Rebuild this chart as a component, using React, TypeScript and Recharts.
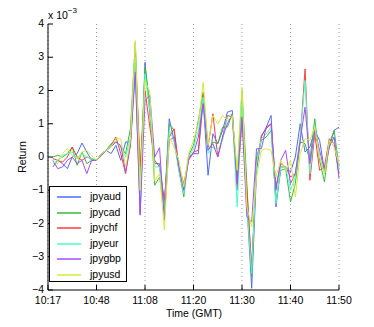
import React from 'react';
import { LineChart, Line, XAxis, YAxis, CartesianGrid, Legend } from 'recharts';

// Returns in units of 10^-3, minute index 1..60
const jpyaud = [-0.3, -0.1, -0.2, -0.35, 0.0, 0.1, 0.42, 0.15, -0.1, -0.1, 0.1, 0.2, 0.1, 0.35, -0.1, 0.45, 0.45, 2.7, -1.75, 2.85, 1.3, -0.2, -0.2, -1.5, 1.15, 0.5, -0.4, -1.0, 0.0, 0.1, 0.1, 1.7, -0.55, 0.7, 0.4, 0.8, 1.35, 1.4, -1.0, 1.5, -1.4, -3.95, -0.4, 0.6, 0.9, 1.25, -1.5, -0.3, -0.3, -0.45, 0.0, 1.0, 0.15, 0.3, 0.8, 0.5, -0.4, 0.3, 0.8, 0.9];
const jpycad = [0.0, 0.05, 0.0, 0.1, 0.3, -0.25, 0.15, -0.2, -0.1, -0.1, 0.05, 0.2, 0.4, 0.45, 0.3, 0.1, 0.85, 3.45, -0.6, 2.7, 1.6, -0.85, -0.6, -1.6, 1.0, 0.8, -0.4, -1.2, 0.05, 0.35, 1.1, 1.95, 0.2, 0.45, 0.4, 0.9, 0.9, 1.3, -0.7, 2.0, -0.8, -3.6, 0.0, 0.5, 0.6, 0.8, -1.3, -0.4, -0.35, -1.35, -0.8, 0.45, 0.4, -0.1, 1.15, -0.1, -0.75, 0.4, 0.8, -0.3];
const jpychf = [-0.05, -0.1, -0.15, 0.0, 0.3, 0.0, -0.1, 0.0, -0.05, -0.1, 0.1, 0.2, 0.35, 0.6, 0.1, -0.5, 0.4, 3.1, -0.3, 2.0, 0.9, -0.1, -0.3, -1.3, 0.6, 0.85, -0.3, -0.8, -0.1, 0.15, 0.2, 1.9, 0.3, 1.3, 0.0, 0.6, 1.25, 1.2, -0.9, 1.1, -1.0, -3.3, -0.3, 0.65, 0.85, 1.0, -0.9, -0.2, -0.3, -0.6, -0.5, 0.5, 2.65, -0.7, 0.7, -0.4, -0.3, 0.55, 0.4, -0.5];
const jpyeur = [-0.2, -0.1, 0.05, 0.1, 0.15, -0.05, 0.1, 0.0, -0.05, -0.1, 0.1, 0.2, 0.35, 0.45, 0.3, 0.0, 0.6, 3.0, -1.2, 2.5, 1.4, -0.3, -0.3, -1.7, 0.8, 0.5, -0.4, -1.1, 0.0, 0.25, 0.8, 1.8, 0.1, 0.3, 0.2, 0.5, 1.2, 1.3, -1.5, 1.6, -1.5, -3.5, -0.2, 0.55, 0.7, 0.9, -1.4, -0.3, -0.3, -1.0, -0.6, 0.6, 2.3, -0.5, 0.85, 0.0, -0.5, 0.35, 0.6, -0.4];
const jpygbp = [-0.1, -0.35, -0.3, -0.1, 0.0, -0.2, -0.1, -0.5, -0.1, -0.1, 0.05, 0.2, 0.3, 0.45, 0.35, -0.45, 0.35, 2.55, -1.7, 1.7, 1.85, 0.0, 0.28, -1.9, 0.5, 0.6, -0.3, -1.0, -0.05, 0.1, 0.6, 1.6, 0.2, 0.4, 0.0, 0.6, 1.0, 1.3, -0.8, 1.2, -1.8, -1.95, 0.25, 0.25, 0.9, 1.0, -1.0, -0.1, 0.2, -0.8, -0.5, 0.5, 1.5, -0.2, 0.8, 0.2, -0.4, 0.3, 0.6, -0.65];
const jpyusd = [-0.15, -0.2, 0.1, 0.25, 0.05, -0.05, 0.15, 0.2, 0.05, -0.1, 0.1, 0.2, 0.3, 0.55, 0.55, -0.3, 0.5, 3.5, -1.0, 2.3, 1.95, -0.7, -0.5, -2.2, 0.6, 0.3, -0.1, -0.9, 0.1, 0.5, 1.0, 2.25, 0.35, 1.25, 1.0, 1.25, 1.1, 1.25, -0.4, 2.1, -1.5, -2.1, -0.6, 0.2, 0.25, 0.2, -0.6, -0.1, -0.4, -0.1, -1.2, 0.1, 0.55, 0.5, 0.9, 0.0, -0.5, 0.5, 0.3, -0.2];

const seriesNames = ['jpyaud', 'jpycad', 'jpychf', 'jpyeur', 'jpygbp', 'jpyusd'];
const seriesValues = [jpyaud, jpycad, jpychf, jpyeur, jpygbp, jpyusd];
const seriesColors = ['#4d6bff', '#3cba3c', '#ff3c3c', '#4dffc4', '#a64dff', '#d2ec3c'];

const xTicks = [0, 10, 20, 30, 40, 50, 60];
const xTickLabels = ['10:17', '10:48', '11:08', '11:20', '11:30', '11:40', '11:50'];
const yTicks = [-4, -3, -2, -1, 0, 1, 2, 3, 4];

const data = jpyaud.map((_, i) => {
  const row: Record<string, number> = { t: i + 1 };
  seriesNames.forEach((n, k) => { row[n] = seriesValues[k][i]; });
  return row;
});

const FONT = 'Liberation Sans, Arial, sans-serif';
const TL = 5;

const BottomTick = (p: any) => (
  <g>
    <line x1={p.x} x2={p.x} y1={p.y} y2={p.y - TL} stroke="#000" />
    <text x={p.x} y={p.y + 14} textAnchor="middle" fontSize={10.5} fontFamily={FONT} fill="#000">
      {xTickLabels[xTicks.indexOf(p.payload.value)]}
    </text>
  </g>
);
const TopTick = (p: any) => (
  <line x1={p.x} x2={p.x} y1={p.y} y2={p.y + TL} stroke="#000" />
);
const LeftTick = (p: any) => (
  <g>
    <line x1={p.x} x2={p.x + TL} y1={p.y} y2={p.y} stroke="#000" />
    <text x={p.x - 4} y={p.y + 3} textAnchor="end" fontSize={10.5} fontFamily={FONT} fill="#000">
      {p.payload.value < 0 ? '\u2212' + Math.abs(p.payload.value) : String(p.payload.value)}
    </text>
  </g>
);
const RightTick = (p: any) => (
  <line x1={p.x} x2={p.x - TL} y1={p.y} y2={p.y} stroke="#000" />
);

const LegendBox = () => (
  <div style={{ width: 76, height: 94, border: '1px solid #000', background: '#fff', position: 'relative', fontFamily: FONT, fontSize: 10.5 }}>
    {seriesNames.map((n, k) => (
      <div key={n} style={{ position: 'absolute', left: 0, top: 2 + k * 15.6, height: 15, width: 76 }}>
        <svg width={36} height={15} style={{ position: 'absolute', left: 0, top: 0 }}>
          <line x1={7} x2={31} y1={8} y2={8} stroke={seriesColors[k]} strokeWidth={1.5} />
        </svg>
        <span style={{ position: 'absolute', left: 40, top: 1, lineHeight: '13px', color: '#000' }}>{n}</span>
      </div>
    ))}
  </div>
);

export default function App() {
  return (
    <div style={{ position: 'absolute', left: 0, top: 0, width: 374, height: 327, background: '#fff' }}>
      <LineChart width={374} height={327} data={data} margin={{ top: 24, right: 35, bottom: 17, left: 8 }}>
        <CartesianGrid vertical horizontal={false} stroke="#999" strokeDasharray="1 3" />
        <XAxis dataKey="t" type="number" domain={[0, 60]} ticks={xTicks} interval={0} height={20}
          tickSize={0} tickMargin={0} tickLine={false} axisLine={{ stroke: '#000' }} tick={BottomTick} />
        <XAxis xAxisId="top" orientation="top" dataKey="t" type="number" domain={[0, 60]} ticks={xTicks} interval={0} height={0}
          tickSize={0} tickMargin={0} tickLine={false} axisLine={{ stroke: '#000' }} tick={TopTick} />
        <YAxis type="number" domain={[-4, 4]} ticks={yTicks} interval={0} width={40}
          tickSize={0} tickMargin={0} tickLine={false} axisLine={{ stroke: '#000' }} tick={LeftTick} />
        <YAxis yAxisId="right" orientation="right" type="number" domain={[-4, 4]} ticks={yTicks} interval={0} width={0}
          tickSize={0} tickMargin={0} tickLine={false} axisLine={{ stroke: '#000' }} tick={RightTick} />
        {seriesNames.map((n, k) => (
          <Line key={n} dataKey={n} stroke={seriesColors[k]} strokeWidth={1} dot={false} isAnimationActive={false} type="linear" />
        ))}
        <Legend layout="horizontal" verticalAlign="middle" align="center" content={LegendBox}
          wrapperStyle={{ left: 49, top: 186, width: 78, height: 96 }} />
      </LineChart>
      <div style={{ position: 'absolute', left: 48, top: 7, fontFamily: FONT, fontSize: 10.5, color: '#000', whiteSpace: 'nowrap' }}>
        x 10<sup style={{ fontSize: 8, position: 'relative', top: -1 }}>{'\u2212'}3</sup>
      </div>
      <div style={{ position: 'absolute', left: 22, top: 157, transform: 'translate(-50%, -50%) rotate(-90deg)', fontFamily: FONT, fontSize: 10.5, color: '#000', whiteSpace: 'nowrap' }}>
        Return
      </div>
      <div style={{ position: 'absolute', left: 194, top: 307, transform: 'translateX(-50%)', fontFamily: FONT, fontSize: 10.5, color: '#000', whiteSpace: 'nowrap' }}>
        Time (GMT)
      </div>
    </div>
  );
}
